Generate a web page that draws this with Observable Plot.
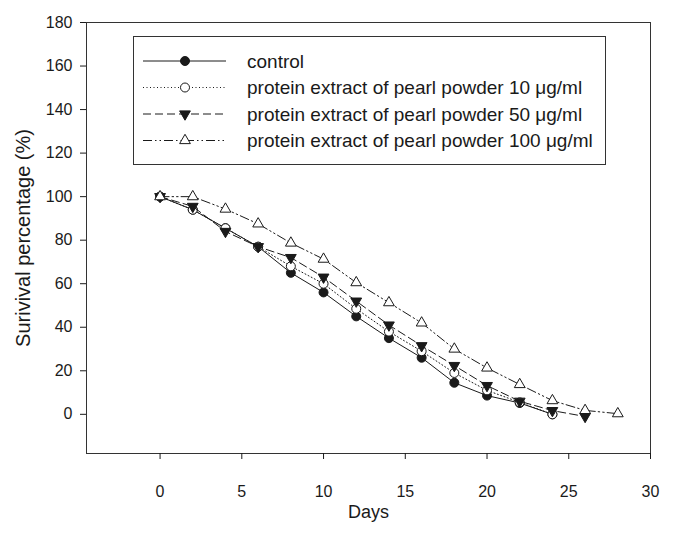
<!DOCTYPE html>
<html><head><meta charset="utf-8">
<script src="https://cdn.jsdelivr.net/npm/d3@7"></script>
<script src="https://cdn.jsdelivr.net/npm/@observablehq/plot@0.6"></script>
<style>
body{margin:0;background:#fff;}
#chart{position:relative;width:673px;height:538px;}
#legend{position:absolute;left:0;top:0;pointer-events:none;}
</style>
</head><body><div id="chart"></div>
<script>
const days = [0, 2, 4, 6, 8, 10, 12, 14, 16, 18, 20, 22, 24, 26, 28];
const seriesNames = [
  "control",
  "protein extract of pearl powder 10 \u03bcg/ml",
  "protein extract of pearl powder 50 \u03bcg/ml",
  "protein extract of pearl powder 100 \u03bcg/ml"
];
const control = [100, 94, 85.5, 77, 65, 56, 45, 35, 26, 14.5, 8.6, 5.2, 0];
const pearl10 = [100, 94, 85.5, 77, 68, 60, 48.5, 38, 29, 19, 11, 5.5, 0];
const pearl50 = [100, 95.5, 84, 77, 72, 63, 52, 41, 31.5, 22.4, 13.2, 6, 1.7, -1];
const pearl100 = [100, 100, 94.3, 87.5, 78.7, 71.3, 60.5, 51.3, 42, 30, 21.3, 13.7, 6.3, 1.8, 0.3];
const xTicks = [0, 5, 10, 15, 20, 25, 30];
const yTicks = [0, 20, 40, 60, 80, 100, 120, 140, 160, 180];

const ink = "#1a1a1a";
const styles = [
  {values: control, dash: null, symbol: "circle", fill: ink, r: 4.5, rotate: 0},
  {values: pearl10, dash: "1,2.5", symbol: "circle", fill: "#fff", r: 4.5, rotate: 0},
  {values: pearl50, dash: "8,4", symbol: "triangle", fill: ink, r: 4, rotate: 180},
  {values: pearl100, dash: "9,3,1.5,3,1.5,3", symbol: "triangle", fill: "#fff", r: 4, rotate: 0}
];

const marks = [
  Plot.frame({stroke: "#333", strokeWidth: 1}),
  Plot.axisX({ticks: xTicks, tickSize: 6, tickPadding: 26, label: null, fontSize: 16}),
  Plot.axisY({ticks: yTicks, tickSize: 6, tickPadding: 8, label: null, fontSize: 16}),
  Plot.text(["Days"], {frameAnchor: "bottom", dy: 64, fontSize: 18, fill: ink}),
  Plot.text(["Surivival percentage (%)"], {frameAnchor: "left", textAnchor: "middle", rotate: -90, dx: -63, fontSize: 20, fill: ink})
];
styles.forEach((s, k) => {
  const rows = s.values.map((v, i) => ({day: days[i], value: v, series: seriesNames[k]}));
  marks.push(Plot.line(rows, {x: "day", y: "value", stroke: ink, strokeWidth: 1, strokeDasharray: s.dash}));
  marks.push(Plot.dot(rows, {x: "day", y: "value", symbol: s.symbol, r: s.r, fill: s.fill, stroke: ink, strokeWidth: 1, rotate: s.rotate}));
});

const plot = Plot.plot({
  width: 673, height: 538,
  marginLeft: 86, marginRight: 23, marginTop: 22, marginBottom: 85,
  style: {fontFamily: "'Liberation Sans', Arial, sans-serif", fontSize: "16px", color: ink, background: "#fff"},
  x: {domain: [-4.5, 30]},
  y: {domain: [-18, 180]},
  marks
});
document.getElementById("chart").appendChild(plot);

// Legend overlay
const lg = d3.select("#chart").append("svg").attr("id", "legend").attr("width", 673).attr("height", 538);
lg.append("rect").attr("x", 133.5).attr("y", 36.5).attr("width", 472).attr("height", 128)
  .attr("fill", "#fff").attr("stroke", "#333").attr("stroke-width", 1);
const rowY = [61, 87.5, 114, 140.5];
styles.forEach((s, k) => {
  const g = lg.append("g").attr("transform", `translate(0,${rowY[k]})`);
  g.append("line").attr("x1", 143).attr("x2", 226).attr("y1", 0).attr("y2", 0)
    .attr("stroke", ink).attr("stroke-width", 1).attr("stroke-dasharray", s.dash);
  const sym = s.symbol === "circle" ? d3.symbolCircle : d3.symbolTriangle;
  g.append("path").attr("d", d3.symbol(sym, Math.PI * s.r * s.r)())
    .attr("transform", `translate(185,0) rotate(${s.rotate})`)
    .attr("fill", s.fill).attr("stroke", ink).attr("stroke-width", 1);
  g.append("text").attr("x", 247).attr("y", 0).attr("dy", "0.35em")
    .attr("font-family", "'Liberation Sans', Arial, sans-serif").attr("font-size", 19)
    .attr("fill", ink).text(seriesNames[k]);
});
</script>
</body></html>
